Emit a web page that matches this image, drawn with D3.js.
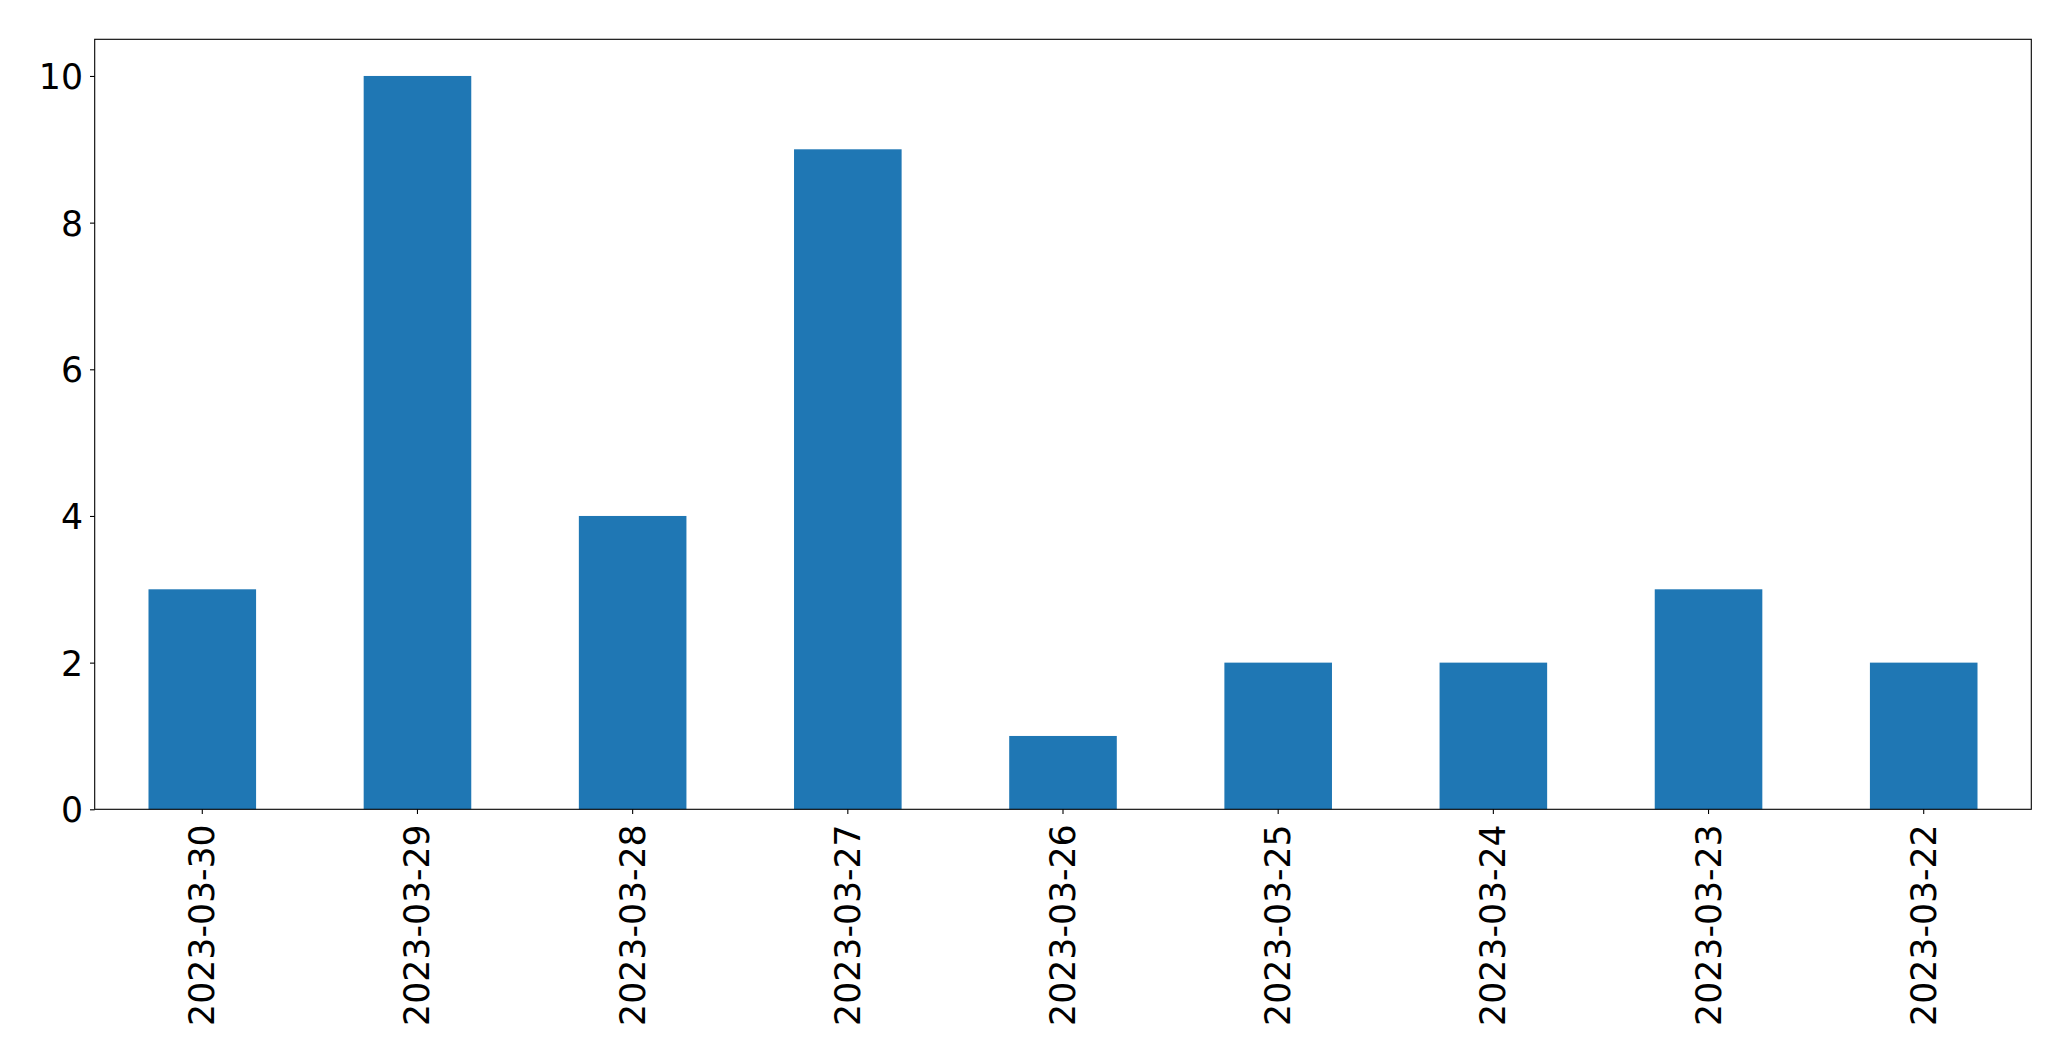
<!DOCTYPE html>
<html><head><meta charset="utf-8">
<script src="https://cdn.jsdelivr.net/npm/d3@7"></script>
<style>
html,body{margin:0;padding:0;background:#fff;}
text{font-family:"DejaVu Sans",sans-serif;}
</style></head>
<body>
<svg id="chart" width="2071" height="1061"></svg>
<script>
const categories = ["2023-03-30","2023-03-29","2023-03-28","2023-03-27","2023-03-26","2023-03-25","2023-03-24","2023-03-23","2023-03-22"];
const values = [3, 10, 4, 9, 1, 2, 2, 3, 2];
const yTicks = [0, 2, 4, 6, 8, 10];

(function(){
const svg = d3.select("#chart");
const pLeft = 94.7, pRight = 2031.3, pTop = 39.3, pBottom = 809.3;

const x = d3.scaleBand().domain(categories).range([pLeft, pRight]).paddingInner(0.5).paddingOuter(0.25);
const y = d3.scaleLinear().domain([0, 10.5]).range([pBottom, pTop]);

svg.append("g").selectAll("rect").data(values).join("rect")
  .attr("x", (d,i) => x(categories[i]))
  .attr("width", x.bandwidth())
  .attr("y", d => y(d))
  .attr("height", d => y(0) - y(d))
  .attr("fill", "#1f77b4");

svg.append("rect").attr("x", pLeft).attr("y", pTop).attr("width", pRight-pLeft).attr("height", pBottom-pTop)
  .attr("fill","none").attr("stroke","#000").attr("stroke-width",1.1);

const yAxis = d3.axisLeft(y).tickValues(yTicks).tickSize(4.7).tickPadding(7).tickFormat(d3.format("d"));
const gy = svg.append("g").attr("transform", `translate(${pLeft},0)`).call(yAxis);
gy.select(".domain").remove();
gy.selectAll(".tick line").attr("stroke","#000").attr("stroke-width",1.1);
gy.selectAll(".tick text").attr("font-size","34.7px").attr("fill","#000")
  .attr("font-family","DejaVu Sans").attr("dy","0.36em");

const xAxis = d3.axisBottom(x).tickSize(4.7).tickPadding(0);
const gx = svg.append("g").attr("transform", `translate(0,${pBottom})`).call(xAxis);
gx.select(".domain").remove();
gx.selectAll(".tick line").attr("stroke","#000").attr("stroke-width",1.1);
gx.selectAll(".tick text").attr("font-size","34.7px").attr("fill","#000")
  .attr("font-family","DejaVu Sans")
  .attr("text-anchor","end")
  .attr("dy",null).attr("y",0)
  .attr("transform","translate(0,15) rotate(-90)")
  .attr("dominant-baseline","central");
})();
</script>
</body></html>
